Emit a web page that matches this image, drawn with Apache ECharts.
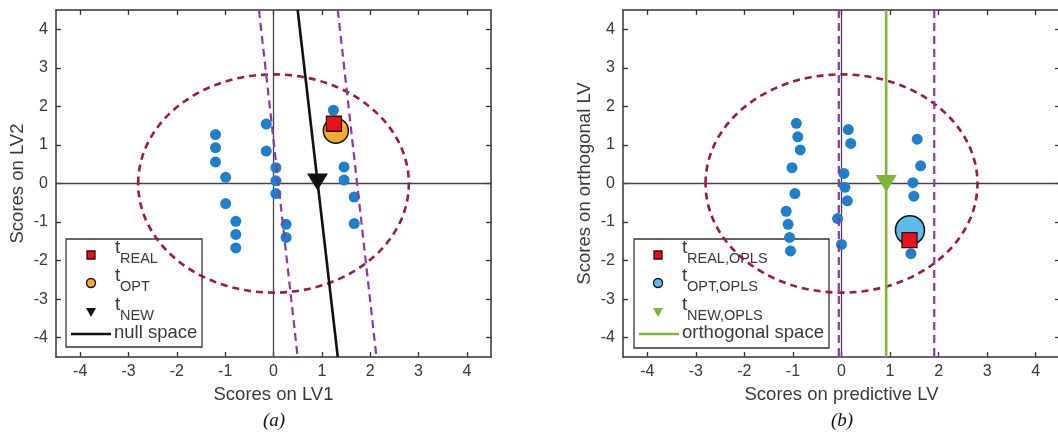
<!DOCTYPE html>
<html>
<head>
<meta charset="utf-8">
<script src="https://cdn.jsdelivr.net/npm/echarts@6/dist/echarts.min.js"></script>
<style>
  html, body { margin: 0; padding: 0; background: #fff; }
  #container { width: 1058px; height: 434px; }
</style>
</head>
<body>
<div id="container"></div>
<script>
// ---- data ----
const ticks = [-4, -3, -2, -1, 0, 1, 2, 3, 4];

// (a) PLS scores
const scoresA = [
  [-1.20, 1.27], [-1.20, 0.93], [-1.20, 0.56], [-0.99, 0.16], [-0.99, -0.52],
  [-0.78, -0.98], [-0.78, -1.32], [-0.78, -1.67],
  [-0.15, 1.54], [-0.15, 0.84], [0.05, 0.41], [0.05, 0.07], [0.05, -0.26],
  [0.26, -1.06], [0.26, -1.40],
  [1.24, 1.90], [1.46, 0.43], [1.46, 0.09], [1.67, -0.35], [1.67, -1.04]
];
const realA = [[1.25, 1.55]];
const optA = [[1.29, 1.37]];
const newA = [[0.91, 0.04]];
const nullSpaceA = [[0.50, 4.5], [1.33, -4.5]];
const boundLeftA = [[-0.30, 4.5], [0.50, -4.5]];
const boundRightA = [[1.33, 4.5], [2.13, -4.5]];

// (b) OPLS scores
const scoresB = [
  [-0.93, 1.56], [-0.90, 1.21], [-0.85, 0.87], [-1.02, 0.41], [-0.96, -0.26],
  [-1.14, -0.72], [-1.10, -1.06], [-1.07, -1.40], [-1.05, -1.75],
  [0.14, 1.40], [0.19, 1.04], [0.05, 0.26], [0.07, -0.10], [0.12, -0.45],
  [-0.08, -0.91], [0.00, -1.58],
  [1.56, 1.15], [1.63, 0.46], [1.47, 0.02], [1.49, -0.33], [1.43, -1.82]
];
const realB = [[1.40, -1.47]];
const optB = [[1.41, -1.21]];
const newB = [[0.92, 0.0]];
const orthSpaceB = [[0.92, 4.5], [0.92, -4.5]];
const boundLeftB = [[-0.055, 4.5], [-0.055, -4.5]];
const boundRightB = [[1.91, 4.5], [1.91, -4.5]];

// confidence ellipse: centre x, centre y, semi-axis x, semi-axis y
const ellipse = [[0, 0, 2.8, 2.83]];

// ---- styles ----
const FONT = 'Liberation Sans';
const TXT = '#3a3a3a';
const FRAME = '#333';
const BLUE = '#1f7fc8';
const MAROON = '#9b1b42';
const PURPLE = '#8a3aa6';
const GREEN = '#7db53c';

let dom = document.getElementById('container');
let myChart = echarts.init(dom, null, { renderer: 'canvas' });

function xAx(grid, name, top) {
  return {
    type: 'value', gridIndex: grid, position: top ? 'top' : 'bottom',
    min: -4.5, max: 4.5,
    name: top ? '' : name, nameLocation: 'middle', nameGap: 28,
    nameTextStyle: { fontFamily: FONT, fontSize: 18.5, color: TXT },
    axisLine: { show: true, onZero: false, lineStyle: { color: FRAME, width: 1.5 } },
    axisTick: {
      show: true, inside: true, length: 5, customValues: ticks,
      lineStyle: { color: FRAME, width: 1.3 }
    },
    axisLabel: {
      show: !top, fontFamily: FONT, fontSize: 16, color: TXT, margin: 7,
      customValues: ticks
    },
    splitLine: { show: false }
  };
}

function yAx(grid, name, right) {
  return {
    type: 'value', gridIndex: grid, position: right ? 'right' : 'left',
    min: -4.5, max: 4.5,
    name: right ? '' : name, nameLocation: 'middle', nameGap: 29,
    nameTextStyle: { fontFamily: FONT, fontSize: 18.5, color: TXT },
    axisLine: { show: true, onZero: false, lineStyle: { color: FRAME, width: 1.5 } },
    axisTick: {
      show: true, inside: true, length: 5, customValues: ticks,
      lineStyle: { color: FRAME, width: 1.3 }
    },
    axisLabel: {
      show: !right, fontFamily: FONT, fontSize: 16, color: TXT, margin: 8,
      customValues: ticks
    },
    splitLine: { show: false }
  };
}

function renderEllipse(params, api) {
  const c = api.coord([api.value(0), api.value(1)]);
  const s = api.size([api.value(2), api.value(3)]);
  return {
    type: 'ellipse',
    shape: { cx: c[0], cy: c[1], rx: s[0], ry: s[1] },
    style: { fill: 'none', stroke: MAROON, lineWidth: 2.6, lineDash: [7, 5] }
  };
}

function panelSeries(ax, pts, bLeft, bRight, space, spaceColor, opt, optColor, optSize, real, nw, nwColor) {
  const base = { xAxisIndex: ax.x, yAxisIndex: ax.y, silent: true, animation: false };
  return [
    Object.assign({}, base, {
      type: 'line', data: [[-4.5, 0], [4.5, 0]], showSymbol: false, z: 1,
      lineStyle: { color: '#444', width: 1.3 }
    }),
    Object.assign({}, base, {
      type: 'line', data: [[0, -4.5], [0, 4.5]], showSymbol: false, z: 1,
      lineStyle: { color: '#444', width: 1.3 }
    }),
    Object.assign({}, base, {
      type: 'custom', data: ellipse, renderItem: renderEllipse, clip: true, z: 2
    }),
    Object.assign({}, base, {
      type: 'scatter', data: pts, symbolSize: 11, z: 3,
      itemStyle: { color: BLUE, opacity: 1 }
    }),
    Object.assign({}, base, {
      type: 'line', data: bLeft, showSymbol: false, z: 4,
      lineStyle: { color: PURPLE, width: 2.2, type: [8, 5] }
    }),
    Object.assign({}, base, {
      type: 'line', data: bRight, showSymbol: false, z: 4,
      lineStyle: { color: PURPLE, width: 2.2, type: [8, 5] }
    }),
    Object.assign({}, base, {
      type: 'line', data: space, showSymbol: false, z: 5,
      lineStyle: { color: spaceColor, width: 2.6 }
    }),
    Object.assign({}, base, {
      type: 'scatter', data: nw, symbol: 'triangle', symbolRotate: 180,
      symbolSize: [21, 17], z: 6, itemStyle: { color: nwColor, opacity: 1 }
    }),
    Object.assign({}, base, {
      type: 'scatter', data: opt, symbolSize: optSize, z: 7,
      itemStyle: { color: optColor, borderColor: '#111', borderWidth: 1.5, opacity: 1 }
    }),
    Object.assign({}, base, {
      type: 'scatter', data: real, symbol: 'rect', symbolSize: 15, z: 8,
      itemStyle: { color: '#e8121b', borderColor: '#3a0a0a', borderWidth: 1.3, opacity: 1 }
    })
  ];
}

// legend box built from graphic elements
function legendBox(x, y, w, h, mx, tx, entries, lineColor, lineLabel) {
  const els = [{
    type: 'rect', shape: { x: x, y: y, width: w, height: h },
    style: { fill: '#fff', stroke: FRAME, lineWidth: 1.3 }
  }];
  const rows = [255, 283, 312];
  entries.forEach((e, i) => {
    const cy = rows[i];
    if (e.kind === 'rect') {
      els.push({ type: 'rect', shape: { x: mx - 4, y: cy - 4, width: 8, height: 8 },
        style: { fill: '#e8121b', stroke: '#3a0a0a', lineWidth: 1.3 } });
    } else if (e.kind === 'circle') {
      els.push({ type: 'circle', shape: { cx: mx, cy: cy, r: 4.5 },
        style: { fill: e.color, stroke: '#111', lineWidth: 1.4 } });
    } else {
      els.push({ type: 'polygon', shape: { points: [[mx - 5, cy - 4], [mx + 5, cy - 4], [mx, cy + 5]] },
        style: { fill: e.color } });
    }
    els.push({ type: 'text', x: tx, y: cy - 7,
      style: { text: 't', font: '19px "' + FONT + '"', fill: TXT, verticalAlign: 'middle' } });
    els.push({ type: 'text', x: tx + 5, y: cy + 4,
      style: { text: e.sub, font: '14.5px "' + FONT + '"', fill: TXT, verticalAlign: 'middle' } });
  });
  els.push({ type: 'line', shape: { x1: x + 5, y1: 334, x2: x + 45, y2: 334 },
    style: { stroke: lineColor, lineWidth: 2.6 } });
  els.push({ type: 'text', x: x + 48, y: 333,
    style: { text: lineLabel, font: '18.5px "' + FONT + '"', fill: TXT, verticalAlign: 'middle' } });
  return { type: 'group', z: 100, children: els };
}

let option = {
  animation: false,
  grid: [
    { left: 56, top: 10, width: 435, height: 347, outerBoundsMode: 'none' },
    { left: 623, top: 10, width: 437, height: 347, outerBoundsMode: 'none' }
  ],
  xAxis: [
    xAx(0, 'Scores on LV1', false), xAx(0, '', true),
    xAx(1, 'Scores on predictive LV', false), xAx(1, '', true)
  ],
  yAxis: [
    yAx(0, 'Scores on LV2', false), yAx(0, '', true),
    yAx(1, 'Scores on orthogonal LV', false), yAx(1, '', true)
  ],
  series: [].concat(
    panelSeries({ x: 0, y: 0 }, scoresA, boundLeftA, boundRightA, nullSpaceA, '#111',
      optA, '#efae2e', 25, realA, newA, '#111'),
    panelSeries({ x: 2, y: 2 }, scoresB, boundLeftB, boundRightB, orthSpaceB, GREEN,
      optB, '#5dbde9', 29, realB, newB, GREEN)
  ),
  graphic: [
    legendBox(66, 239, 136, 108, 91, 115, [
      { kind: 'rect', sub: 'REAL' },
      { kind: 'circle', sub: 'OPT', color: '#efae2e' },
      { kind: 'tri', sub: 'NEW', color: '#111' }
    ], '#111', 'null space'),
    legendBox(634, 239, 195, 109, 658, 682, [
      { kind: 'rect', sub: 'REAL,OPLS' },
      { kind: 'circle', sub: 'OPT,OPLS', color: '#5dbde9' },
      { kind: 'tri', sub: 'NEW,OPLS', color: GREEN }
    ], GREEN, 'orthogonal space'),
    { type: 'text', x: 274, y: 421, z: 100,
      style: { text: '(a)', font: 'italic 19px "Liberation Serif"', fill: '#111', align: 'center', verticalAlign: 'middle' } },
    { type: 'text', x: 842, y: 421, z: 100,
      style: { text: '(b)', font: 'italic 19px "Liberation Serif"', fill: '#111', align: 'center', verticalAlign: 'middle' } }
  ]
};

if (option && typeof option === 'object') {
  myChart.setOption(option);
}

window.addEventListener('resize', myChart.resize);
</script>
</body>
</html>
